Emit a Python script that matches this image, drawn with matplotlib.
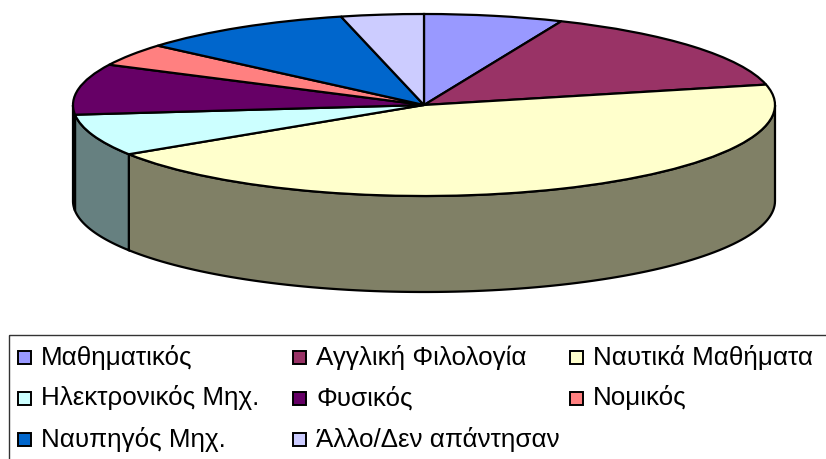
import numpy as np
import matplotlib
matplotlib.use('Agg')
import matplotlib.pyplot as plt
from matplotlib.patches import Rectangle

plt.rcParams['font.family'] = ['Liberation Sans', 'DejaVu Sans']

# data
labels = ['Μαθηματικός', 'Αγγλική Φιλολογία', 'Ναυτικά Μαθήματα',
          'Ηλεκτρονικός Μηχ.', 'Φυσικός', 'Νομικός',
          'Ναυπηγός Μηχ.', 'Άλλο/Δεν απάντησαν']
values = [6.4, 15.0, 44.5, 7.4, 9.0, 4.0, 9.9, 3.8]
colors = ['#9999FF', '#993366', '#FFFFCC', '#CCFFFF',
          '#660066', '#FF8080', '#0066CC', '#CCCCFF']
side_colors = ['#4D4D80', '#4D1A33', '#808066', '#668080',
               '#330033', '#804040', '#003366', '#666680']

W, H = 826, 459
fig = plt.figure(figsize=(W / 100, H / 100), dpi=100)

# pie: the axes box is the top ellipse
ax = fig.add_axes([73 / W, 1 - 196 / H, 702 / W, 182 / H])
ax.pie(values, colors=colors, startangle=90, counterclock=False,
       wedgeprops={'edgecolor': 'black', 'linewidth': 1.6, 'clip_on': False, 'zorder': 3})
ax.set_aspect('auto')
ax.set_xlim(-1, 1)
ax.set_ylim(-1, 1)

# side wall, front half only
depth = 96 / 91
edges = np.cumsum([0] + values) / sum(values) * 2 * np.pi
for i in range(len(values)):
    a = max(edges[i], np.pi / 2)
    b = min(edges[i + 1], 3 * np.pi / 2)
    if b <= a:
        continue
    t = np.linspace(a, b, 100)
    x = np.sin(t)
    y = np.cos(t)
    ax.fill(np.r_[x, x[::-1]], np.r_[y, y[::-1] - depth], facecolor=side_colors[i],
            edgecolor='black', linewidth=1.6, clip_on=False, zorder=2)

# legend drawn on a pixel axes
lg = fig.add_axes([0, 0, 1, 1])
lg.set_xlim(0, W)
lg.set_ylim(H, 0)
lg.axis('off')
lg.add_patch(Rectangle((9, 335), 840, 140, facecolor='none', edgecolor='#333333', linewidth=1.0))
col_x = [18, 293, 570]
row_y = [357, 398, 439]
for i, name in enumerate(labels):
    x0 = col_x[i % 3]
    y0 = row_y[i // 3]
    lg.add_patch(Rectangle((x0, y0 - 6), 13, 13, facecolor=colors[i], edgecolor='black', linewidth=1.4))
    lg.text(x0 + 23, y0, name, fontsize=18.7, va='center', ha='left', color='black')

fig.savefig('out.png', dpi=100)
